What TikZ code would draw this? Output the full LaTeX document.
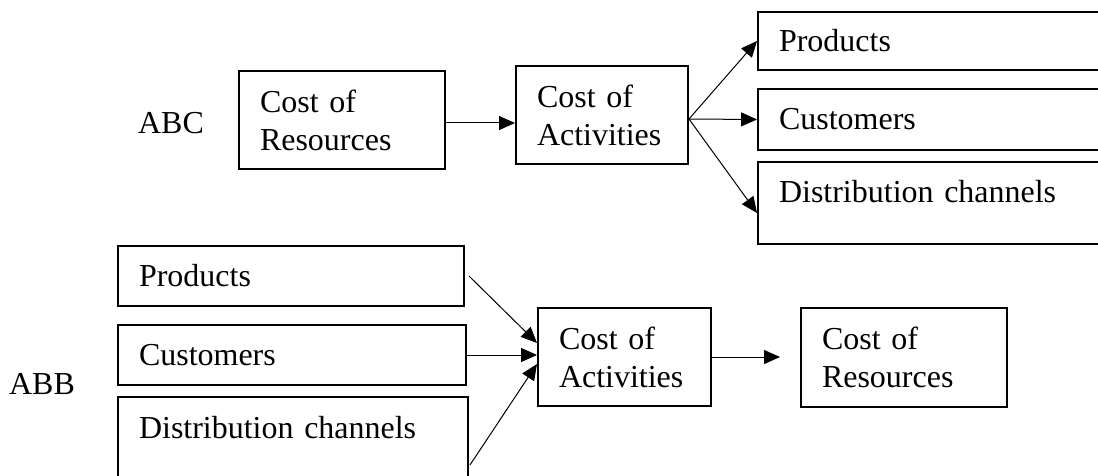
\documentclass[tikz,border=0pt]{standalone}
\usepackage{fontspec}
\setmainfont{Liberation Serif}
\usetikzlibrary{arrows.meta,positioning}
\usetikzlibrary{calc}

\tikzset{
  box/.style={draw, line width=0.04cm, inner xsep=0.42cm, inner ysep=0pt, align=left,
    font=\fontsize{18.2pt}{21.6pt}\selectfont},
  tag/.style={inner sep=0pt, font=\fontsize{18.2pt}{21.6pt}\selectfont},
  conn/.style={line width=0.02cm, -{Triangle[length=0.32cm,width=0.28cm]}}
}

\begin{document}
\begin{tikzpicture}[x=0.02cm,y=-0.02cm]
\useasboundingbox (0,0) rectangle (1098,476);
\def\tallbox{1.96cm}
\node[tag] (abc) at (171,123) {ABC};
\node[tag] (abb) at (42,383.5) {ABB};
\node[box, text width=3.28cm, minimum height=\tallbox] (res1) at (342,120) {Cost of\\Resources};
\node[box, text width=2.6cm, minimum height=\tallbox] (act1) at (602,115) {Cost of\\Activities};
\node[box, text width=6.2cm, minimum height=1.16cm] (prod1) at (934,41) {Products};
\node[box, text width=6.2cm, minimum height=1.22cm] (cust1) at (934,119.5) {Customers};
\node[box, text width=6.2cm, text height=0.82cm, text depth=0.82cm] (dist1) at (934,203) {Distribution channels};
\node[box, text width=6.08cm, minimum height=1.2cm] (prod2) at (291,276) {Products};
\node[box, text width=6.12cm, minimum height=1.22cm] (cust2) at (292,355) {Customers};
\node[box, text width=6.16cm, text height=0.82cm, text depth=0.82cm] (dist2) at (293,438) {Distribution channels};
\node[box, text width=2.62cm, minimum height=\tallbox] (act2) at (624.5,357) {Cost of\\Activities};
\node[box, text width=3.28cm, minimum height=1.98cm] (res2) at (904,357.5) {Cost of\\Resources};
\coordinate (fork1) at ([yshift=-0.08cm]act1.east);
\coordinate (stop2) at ([xshift=-0.4cm]res2.west);
\draw[conn] ([yshift=-0.06cm]res1.east) -- ([yshift=-0.06cm]res1.east -| act1.west);
\draw[conn] (fork1) -- (prod1.west);
\draw[conn] (fork1) -- (cust1.west);
\draw[conn] (fork1) -- ([yshift=-0.2cm]dist1.west);
\draw[conn] ([xshift=0.08cm]prod2.east) -- ([yshift=0.28cm]act2.west);
\draw[conn] (cust2.east) -- (cust2.east -| act2.west);
\draw[conn] ([shift={(0.02cm,0.3cm)}]dist2.south east) -- ([yshift=-0.14cm]act2.west);
\draw[conn] (act2.east) -- (act2.east -| stop2);
\end{tikzpicture}
\end{document}
